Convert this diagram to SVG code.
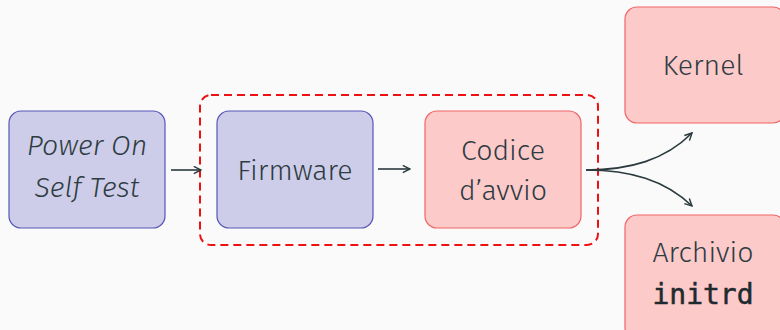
<svg xmlns="http://www.w3.org/2000/svg" width="780" height="330" viewBox="0 0 780 330">
<defs>
<style>
.t{font-family:"Fira Sans","Noto Sans","Open Sans",sans-serif;font-weight:300;font-size:28.5px;fill:#2e3c42;text-anchor:middle}
.blue{fill:#cdcde9;stroke:#5656b8;stroke-width:1.2}
.red{fill:#fdcaca;stroke:#ef6464;stroke-width:1.2}
.c{fill:none;stroke:#2b3a3e;stroke-width:1.6}
.m{font-family:"DejaVu Sans Mono","Liberation Mono",monospace;font-size:28px;fill:#1f2a2e;text-anchor:middle;font-weight:normal;stroke:#1f2a2e;stroke-width:0.5}
</style>
<marker id="ah" viewBox="0 0 10 10" refX="9" refY="5" markerWidth="9" markerHeight="9" markerUnits="userSpaceOnUse" orient="auto">
<path d="M1,1 L9,5 L1,9" fill="none" stroke="#2b3a3e" stroke-width="1.6"/>
</marker>
</defs>
<rect width="780" height="330" fill="#fafafa"/>
<rect x="200" y="95" width="398" height="150" rx="11" fill="none" stroke="#ee1111" stroke-width="2" stroke-dasharray="8,5"/>
<g id="post"><rect class="blue" x="9" y="111" width="156" height="117" rx="12"/>
<text class="t" x="87" y="155" font-style="italic">Power On</text>
<text class="t" x="87" y="197" font-style="italic">Self Test</text></g>
<g id="firmware"><rect class="blue" x="217" y="111" width="156" height="117" rx="12"/>
<text class="t" x="295" y="180">Firmware</text></g>
<g id="codice"><rect class="red" x="425" y="111" width="156" height="117" rx="12"/>
<text class="t" x="503" y="160">Codice</text>
<text class="t" x="503" y="200">d’avvio</text></g>
<g id="kernel"><rect class="red" x="625" y="7" width="160" height="116" rx="12"/>
<text class="t" x="703" y="75">Kernel</text></g>
<g id="archivio"><rect class="red" x="625" y="215" width="160" height="125" rx="12"/>
<text class="t" x="703" y="262">Archivio</text>
<text class="m" x="703" y="304">initrd</text></g>
<g id="connectors">
<path class="c" d="M171,170 H201" marker-end="url(#ah)"/>
<path class="c" d="M378,169 H410" marker-end="url(#ah)"/>
<path class="c" d="M586,170 C630,170 665,160 692,133" marker-end="url(#ah)"/>
<path class="c" d="M586,170 C630,170 665,180 692,206" marker-end="url(#ah)"/>
</g>
</svg>
